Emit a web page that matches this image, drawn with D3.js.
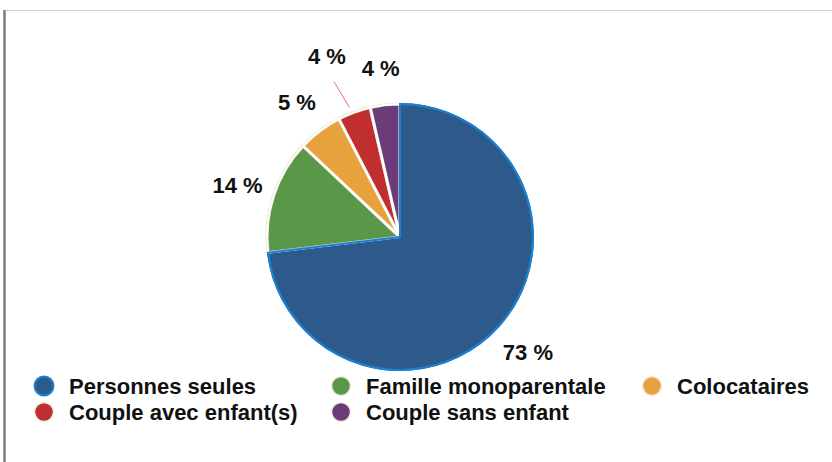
<!DOCTYPE html>
<html><head><meta charset="utf-8">
<script src="https://cdn.jsdelivr.net/npm/d3@7"></script>
<style>html,body{margin:0;padding:0;background:#fff;}svg{display:block;font-family:"Liberation Sans",Arial,Helvetica,sans-serif;}</style>
</head><body>
<script>
const categories = ["Personnes seules","Famille monoparentale","Colocataires","Couple avec enfant(s)","Couple sans enfant"];
const values = [73.1, 13.9, 5.4, 4.0, 3.6];
const labels = ["73 %","14 %","5 %","4 %","4 %"];
const colors = ["#2e5a8b","#5b9748","#e8a23d","#c02e30","#6c3c78"];

const W = 832, H = 462;
const svg = d3.select("body").append("svg").attr("width", W).attr("height", H);

// frame
svg.append("line").attr("x1",3).attr("x2",W).attr("y1",10.5).attr("y2",10.5).attr("stroke","#cfcfcf").attr("stroke-width",1);
svg.append("rect").attr("x",3).attr("y",10).attr("width",3).attr("height",H-10).attr("fill","#a0a0a0");
svg.append("rect").attr("x",4).attr("y",10).attr("width",1).attr("height",H-10).attr("fill","#7a7a7a");

const cx = 400, cy = 237, R = 133;
const pie = d3.pie().sort(null).value(d => d.v);
const data = pie(categories.map((c,i) => ({c, v: values[i], i})));
const arc = d3.arc().innerRadius(0).outerRadius(R);
const g = svg.append("g").attr("transform", `translate(${cx},${cy})`);

const order = data.slice(1).concat([data[0]]);
g.selectAll("path.sl").data(order).join("path")
  .attr("class","sl")
  .attr("d", arc)
  .attr("fill", d => colors[d.data.i])
  .attr("stroke", d => d.data.i === 0 ? "#1d7fd0" : "#e9e1d3")
  .attr("stroke-width", d => d.data.i === 0 ? 2 : 3.2)
  .attr("stroke-linejoin","round");
g.selectAll("path.in").data(data.slice(1)).join("path")
  .attr("class","in")
  .attr("d", arc)
  .attr("fill","none")
  .attr("stroke","#fff")
  .attr("stroke-width",1.8)
  .attr("stroke-linejoin","round");
g.append("path").datum(data[0]).attr("d", arc).attr("fill","none").attr("stroke","#1d7fd0").attr("stroke-width",2);

// labels
const labelR = 171;
data.forEach(d => {
  const mid = (d.startAngle + d.endAngle)/2;
  let a = mid, r = labelR, connector = false;
  if (d.data.i === 3) { a = mid - 0.03; r = 196; connector = true; }
  const x = Math.sin(a)*r, y = -Math.cos(a)*r;
  if (connector) {
    const a2 = mid - 0.02;
    g.append("line")
      .attr("x1", Math.sin(a2)*(R+6)).attr("y1", -Math.cos(a2)*(R+6))
      .attr("x2", Math.sin(a2-0.03)*(R+36)).attr("y2", -Math.cos(a2-0.03)*(R+36))
      .attr("stroke","#f06a6a").attr("stroke-width",1);
  }
  g.append("text").attr("x", x).attr("y", y).attr("dy","0.42em")
    .attr("text-anchor","middle").attr("font-weight","bold").attr("font-size",22)
    .attr("fill","#111").text(labels[d.data.i]);
});

// legend
const colX = [44, 341, 652];
const rowY = [386, 412];
const lg = svg.append("g");
categories.forEach((c,i) => {
  const col = i % 3, row = Math.floor(i/3);
  const x = colX[col], y = rowY[row];
  lg.append("circle").attr("cx", x).attr("cy", y).attr("r", 9.5)
    .attr("fill", colors[i])
    .attr("stroke", i === 0 ? "#1d7fd0" : "#f3ece4")
    .attr("stroke-width", i === 0 ? 2 : 1.5);
  lg.append("text").attr("x", x + 25).attr("y", y).attr("dy","0.35em")
    .attr("font-weight","bold").attr("font-size",22).attr("fill","#111").text(c);
});
</script>
</body></html>
